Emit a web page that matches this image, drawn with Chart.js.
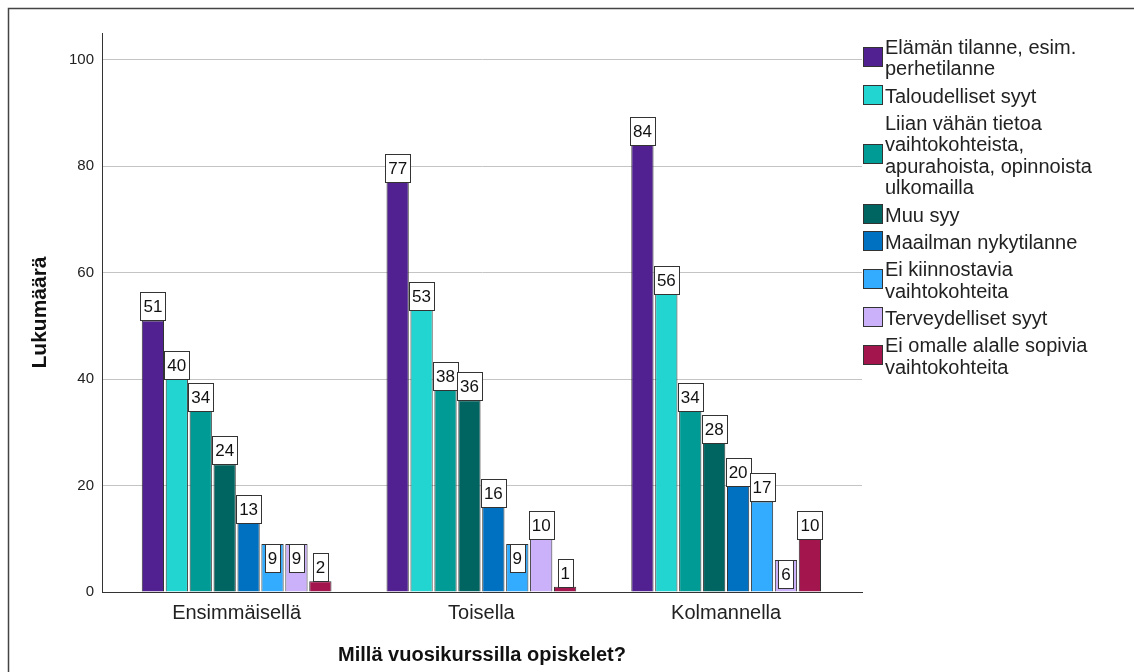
<!DOCTYPE html>
<html>
<head>
<meta charset="utf-8">
<script src="https://cdn.jsdelivr.net/npm/chart.js@4.4.1/dist/chart.umd.min.js"></script>
<style>
  html, body { margin: 0; padding: 0; background: #fff; }
  #wrap { width: 1134px; height: 672px; }
</style>
</head>
<body>
<div id="wrap"><canvas id="chart" width="1134" height="672"></canvas></div>
<script>
const categories = ["Ensimmäisellä", "Toisella", "Kolmannella"];

const seriesNames = [
  "Elämän tilanne, esim. perhetilanne",
  "Taloudelliset syyt",
  "Liian vähän tietoa vaihtokohteista, apurahoista, opinnoista ulkomailla",
  "Muu syy",
  "Maailman nykytilanne",
  "Ei kiinnostavia vaihtokohteita",
  "Terveydelliset syyt",
  "Ei omalle alalle sopivia vaihtokohteita"
];

// values per reason, one number per year
const elamanTilanne = [51, 77, 84];
const taloudelliset = [40, 53, 56];
const liianVahanTietoa = [34, 38, 34];
const muuSyy = [24, 36, 28];
const maailmanTilanne = [13, 16, 20];
const eiKiinnostavia = [9, 9, 17];
const terveydelliset = [9, 10, 6];
const eiOmalleAlalle = [2, 1, 10];

const seriesValues = [
  elamanTilanne, taloudelliset, liianVahanTietoa, muuSyy,
  maailmanTilanne, eiKiinnostavia, terveydelliset, eiOmalleAlalle
];

const seriesColors = [
  "#512192", "#23d5d0", "#009b95", "#006461",
  "#0070c0", "#33acff", "#cbb0fa", "#a3154d"
];

const yTicks = [0, 20, 40, 60, 80, 100];

const FONT = "'Liberation Sans', Arial, sans-serif";

// white page plus the outer frame (only its top and left edges are in view)
const framePlugin = {
  id: "frame",
  beforeDraw(chart) {
    const ctx = chart.ctx;
    ctx.save();
    ctx.fillStyle = "#fff";
    ctx.fillRect(0, 0, chart.width, chart.height);
    ctx.strokeStyle = "#444";
    ctx.lineWidth = 1.5;
    ctx.beginPath();
    ctx.moveTo(8.5, chart.height);
    ctx.lineTo(8.5, 8.5);
    ctx.lineTo(chart.width, 8.5);
    ctx.stroke();
    ctx.restore();
  }
};

// boxed value labels, inside the bar top when the box fits there
const valueBoxes = {
  id: "valueBoxes",
  afterDatasetsDraw(chart) {
    const ctx = chart.ctx;
    ctx.save();
    ctx.font = "17px " + FONT;
    ctx.textAlign = "center";
    ctx.textBaseline = "middle";
    chart.data.datasets.forEach((ds, di) => {
      const meta = chart.getDatasetMeta(di);
      meta.data.forEach((bar, i) => {
        const txt = String(ds.data[i].y);
        const w = Math.round(ctx.measureText(txt).width + 6);
        const h = 28;
        const barH = bar.base - bar.y;
        let top;
        if (w <= bar.width && h <= barH) {
          top = bar.y;
        } else {
          top = bar.y - h;
        }
        const left = Math.round(bar.x - w / 2) + 0.5;
        top = Math.round(top) + 0.5;
        ctx.fillStyle = "#fff";
        ctx.fillRect(left, top, w, h);
        ctx.strokeStyle = "#333";
        ctx.lineWidth = 1;
        ctx.strokeRect(left, top, w, h);
        ctx.fillStyle = "#111";
        ctx.fillText(txt, bar.x, top + h / 2 + 1);
      });
    });
    ctx.restore();
  }
};

// legend on the right with wrapped names
const sideLegend = {
  id: "sideLegend",
  afterDraw(chart) {
    const ctx = chart.ctx;
    const x0 = 863, tx = 885, maxW = 235;
    const lineH = 21.5, gap = 5.8;
    let y = 37.5;
    ctx.save();
    ctx.font = "20px " + FONT;
    ctx.textBaseline = "middle";
    ctx.textAlign = "left";
    chart.data.datasets.forEach((ds) => {
      const words = ds.label.split(" ");
      const lines = [];
      let cur = "";
      words.forEach((wd) => {
        const test = cur ? cur + " " + wd : wd;
        if (cur && ctx.measureText(test).width > maxW) {
          lines.push(cur);
          cur = wd;
        } else {
          cur = test;
        }
      });
      lines.push(cur);
      const blockH = lines.length * lineH;
      const sq = 19;
      const sqTop = Math.round(y + blockH / 2 - sq / 2 - 3) + 0.5;
      ctx.fillStyle = ds.backgroundColor;
      ctx.fillRect(x0 + 0.5, sqTop, sq, sq);
      ctx.strokeStyle = "#333";
      ctx.lineWidth = 1;
      ctx.strokeRect(x0 + 0.5, sqTop, sq, sq);
      ctx.fillStyle = "#222";
      lines.forEach((ln, k) => {
        ctx.fillText(ln, tx, y + lineH * k + lineH / 2);
      });
      y += blockH + gap;
    });
    ctx.restore();
  }
};

const datasets = seriesNames.map((name, s) => ({
  label: name,
  data: seriesValues[s].map((v, i) => ({ x: i, y: v })),
  backgroundColor: seriesColors[s],
  borderColor: "#333",
  borderWidth: 1,
  categoryPercentage: 0.782,
  barPercentage: 0.93
}));

new Chart(document.getElementById("chart").getContext("2d"), {
  type: "bar",
  data: { datasets },
  plugins: [framePlugin, valueBoxes, sideLegend],
  options: {
    responsive: false,
    animation: false,
    devicePixelRatio: 1,
    layout: { padding: { top: 33, right: 272, left: 0, bottom: 0 } },
    plugins: {
      legend: { display: false },
      tooltip: { enabled: false }
    },
    scales: {
      x: {
        type: "linear",
        min: -0.55,
        max: 2.555,
        offset: false,
        grid: { display: false, drawTicks: false, offset: false },
        border: { color: "#333", width: 1 },
        afterBuildTicks: (s) => {
          s.ticks = categories.map((c, i) => ({ value: i }));
        },
        ticks: {
          callback: (v) => categories[v],
          font: { family: FONT, size: 20 },
          color: "#222",
          padding: 9,
          autoSkip: false,
          maxRotation: 0
        },
        title: {
          display: true,
          text: "Millä vuosikurssilla opiskelet?",
          font: { family: FONT, size: 20, weight: "bold" },
          color: "#111",
          padding: { top: 0, bottom: 5 }
        },
        afterFit: (s) => { s.height = 80; }
      },
      y: {
        min: 0,
        max: 105,
        afterBuildTicks: (s) => {
          s.ticks = yTicks.map((v) => ({ value: v }));
        },
        ticks: {
          font: { family: FONT, size: 15 },
          color: "#222",
          padding: 8
        },
        grid: { color: "#c4c4c4", drawTicks: false },
        border: { color: "#333", width: 1 },
        title: {
          display: true,
          text: "Lukumäärä",
          font: { family: FONT, size: 21, weight: "bold" },
          color: "#111",
          padding: { top: 28, bottom: 0 }
        },
        afterFit: (s) => { s.width = 102; }
      }
    }
  }
});
</script>
</body>
</html>
